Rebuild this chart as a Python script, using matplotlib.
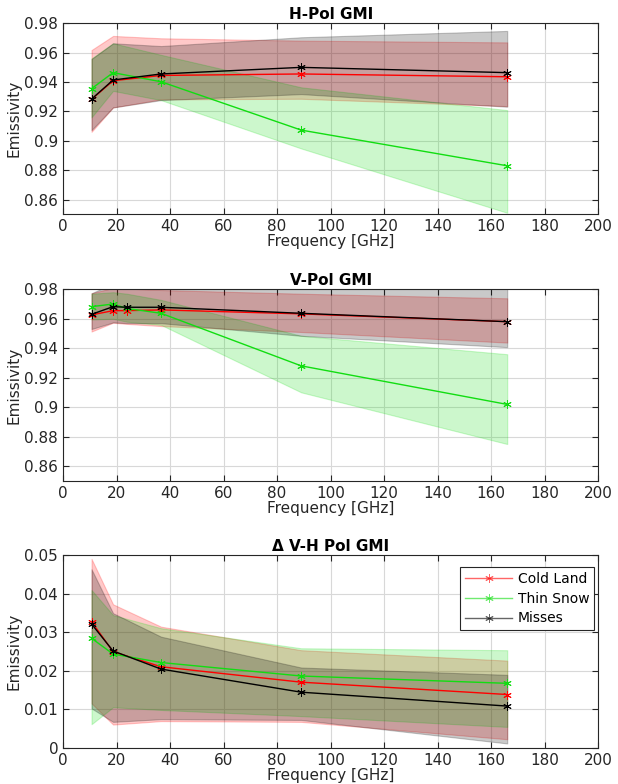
import numpy as np
import matplotlib
matplotlib.use("Agg")
import matplotlib.pyplot as plt
from matplotlib.ticker import FormatStrFormatter

# GMI channel frequencies [GHz]
freq_h = [10.65, 18.7, 36.64, 89.0, 166.0]
freq_v = [10.65, 18.7, 23.8, 36.64, 89.0, 166.0]
freq_d = [10.65, 18.7, 36.64, 89.0, 166.0]

# H-Pol emissivity: mean, lower and upper bound
h_cold = [0.9282, 0.9409, 0.9445, 0.9455, 0.9436]
h_cold_lo = [0.9061, 0.9227, 0.9282, 0.9286, 0.9236]
h_cold_hi = [0.9618, 0.9714, 0.9698, 0.9682, 0.9670]
h_thin = [0.9355, 0.9464, 0.9402, 0.9073, 0.8830]
h_thin_lo = [0.9160, 0.9340, 0.9277, 0.8948, 0.8510]
h_thin_hi = [0.9561, 0.9664, 0.9585, 0.9364, 0.9209]
h_miss = [0.9284, 0.9414, 0.9455, 0.9500, 0.9464]
h_miss_lo = [0.9073, 0.9227, 0.9277, 0.9318, 0.9232]
h_miss_hi = [0.9557, 0.9664, 0.9645, 0.9705, 0.9748]

# V-Pol emissivity
v_cold = [0.9626, 0.9655, 0.9655, 0.9660, 0.9633, 0.9580]
v_cold_lo = [0.9513, 0.9573, 0.9565, 0.9550, 0.9510, 0.9438]
v_cold_hi = [0.9773, 0.9810, 0.9805, 0.9795, 0.9770, 0.9739]
v_thin = [0.9682, 0.9700, 0.9670, 0.9637, 0.9280, 0.9018]
v_thin_lo = [0.9595, 0.9600, 0.9580, 0.9558, 0.9100, 0.8749]
v_thin_hi = [0.9770, 0.9780, 0.9770, 0.9728, 0.9484, 0.9359]
v_miss = [0.9630, 0.9682, 0.9678, 0.9678, 0.9637, 0.9580]
v_miss_lo = [0.9530, 0.9575, 0.9570, 0.9570, 0.9484, 0.9407]
v_miss_hi = [0.9773, 0.9840, 0.9845, 0.9850, 0.9860, 0.9870]

# V-H difference
d_cold = [0.0327, 0.0249, 0.0210, 0.0170, 0.0138]
d_cold_lo = [0.0115, 0.0060, 0.0069, 0.0067, 0.0022]
d_cold_hi = [0.0490, 0.0372, 0.0314, 0.0253, 0.0226]
d_thin = [0.0284, 0.0243, 0.0221, 0.0186, 0.0167]
d_thin_lo = [0.0061, 0.0105, 0.0098, 0.0082, 0.0054]
d_thin_hi = [0.0409, 0.0344, 0.0310, 0.0258, 0.0253]
d_miss = [0.0321, 0.0251, 0.0204, 0.0144, 0.0108]
d_miss_lo = [0.0102, 0.0067, 0.0074, 0.0072, 0.0011]
d_miss_hi = [0.0463, 0.0349, 0.0288, 0.0208, 0.0189]

labels = ["Cold Land", "Thin Snow", "Misses"]
colors = ["#ff0000", "#11dd11", "#000000"]
asterisk = (6, 2, 0)

plt.rcParams["font.family"] = "DejaVu Sans"
plt.rcParams["font.size"] = 10

fig = plt.figure(figsize=(6.18, 7.84), dpi=100)
ax_h = fig.add_axes([0.102, 0.7267, 0.866, 0.2436])
ax_v = fig.add_axes([0.102, 0.3869, 0.866, 0.2441])
ax_d = fig.add_axes([0.102, 0.0463, 0.866, 0.2458])


def panel(ax, x, series, title, ylim, yticks):
    for (m, lo, hi), c in zip(series, colors):
        ax.fill_between(x, lo, hi, facecolor=c, alpha=0.21, edgecolor=c,
                        linewidth=0.8, zorder=2)
    for (m, lo, hi), c, lab in zip(series, colors, labels):
        ax.plot(x, m, color=c, lw=1.0, marker=asterisk, ms=6, mew=0.7,
                label=lab, zorder=3)
    ax.set_xlim(0, 200)
    ax.set_ylim(*ylim)
    ax.set_xticks(np.arange(0, 201, 20))
    ax.set_yticks(yticks)
    ax.yaxis.set_major_formatter(FormatStrFormatter("%g"))
    ax.grid(True, color="#d8d8d8", lw=0.8, zorder=0)
    ax.set_axisbelow(True)
    ax.tick_params(direction="in", top=True, right=True, length=4,
                   colors="#262626", labelsize=11, labelcolor="#262626")
    for s in ax.spines.values():
        s.set_color("#262626")
        s.set_linewidth(0.8)
    ax.set_title(title, fontsize=11, fontweight="bold", pad=3)
    ax.set_xlabel("Frequency [GHz]", fontsize=11, color="#262626", labelpad=0)
    ax.set_ylabel("Emissivity", fontsize=11, color="#262626", labelpad=2)


panel(ax_h, freq_h,
      [(h_cold, h_cold_lo, h_cold_hi), (h_thin, h_thin_lo, h_thin_hi),
       (h_miss, h_miss_lo, h_miss_hi)],
      "H-Pol GMI", (0.85, 0.98), np.arange(0.86, 0.981, 0.02))
panel(ax_v, freq_v,
      [(v_cold, v_cold_lo, v_cold_hi), (v_thin, v_thin_lo, v_thin_hi),
       (v_miss, v_miss_lo, v_miss_hi)],
      "V-Pol GMI", (0.85, 0.98), np.arange(0.86, 0.981, 0.02))
panel(ax_d, freq_d,
      [(d_cold, d_cold_lo, d_cold_hi), (d_thin, d_thin_lo, d_thin_hi),
       (d_miss, d_miss_lo, d_miss_hi)],
      "\u0394 V-H Pol GMI", (0, 0.05), np.arange(0, 0.051, 0.01))

leg = ax_d.legend(loc="upper right", bbox_to_anchor=(0.9925, 0.938),
                  borderaxespad=0, fancybox=False, framealpha=1,
                  edgecolor="#262626", fontsize=10, handlelength=3.4,
                  handletextpad=0.4, borderpad=0.35, labelspacing=0.42)
leg.get_frame().set_linewidth(0.8)
for line in leg.get_lines():
    line.set_alpha(0.6)

fig.savefig("out.png", dpi=100)
